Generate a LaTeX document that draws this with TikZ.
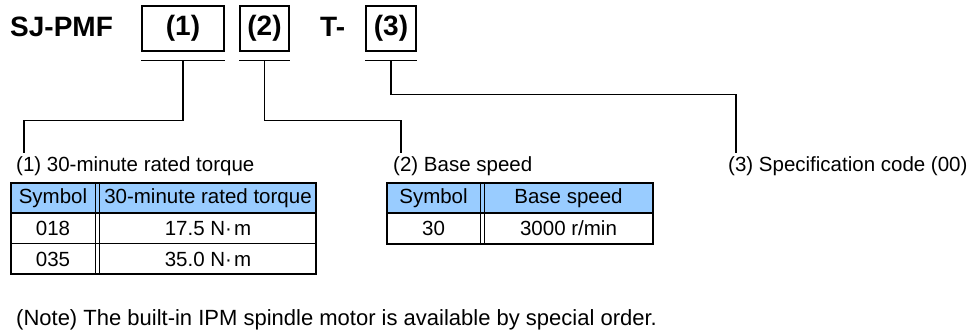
\documentclass[tikz,border=0pt]{standalone}
\usepackage{fontspec}
\setmainfont{Liberation Sans}
\usetikzlibrary{calc}
\definecolor{hdrblue}{HTML}{99CCFF}
\tikzset{
  codebox/.style={draw, line width=1.4pt, minimum height=45, inner sep=0pt, font=\fontsize{28}{30}\selectfont\bfseries},
  titletext/.style={anchor=base west, inner sep=0pt, font=\fontsize{28}{30}\selectfont\bfseries},
  lbl/.style={anchor=base west, inner sep=0pt, font=\fontsize{20.5}{24}\selectfont},
  cell/.style={inner sep=0pt, font=\fontsize{20.5}{24}\selectfont},
  lead/.style={line width=1.2pt},
}
\begin{document}
\begin{tikzpicture}[x=1pt,y=-1pt]
  \useasboundingbox (0,0) rectangle (977,331);
  \node[titletext] (model) at (10,37) {SJ-PMF};
  \node[codebox, minimum width=82] (c1) at (183,28.5) {(1)};
  \node[codebox, minimum width=49] (c2) at (264.5,28.5) {(2)};
  \node[titletext] (tdash) at (320,37) {T-};
  \node[codebox, minimum width=50] (c3) at (391,28.5) {(3)};
  \foreach \c in {c1,c2,c3}
    \draw[lead] ($(\c.south west)+(0,9)$) -- coordinate (u\c) ($(\c.south east)+(0,9)$); % underline

  \coordinate (e1) at (24,153);
  \coordinate (e2) at (401,153);
  \coordinate (e3) at (736,153);
  \draw[lead] (uc1) -- ++(0,60) -| (e1);
  \draw[lead] (uc2) -- ++(0,60) -| (e2);
  \draw[lead] (uc3) -- ++(0,34) -| (e3);

  \node[lbl] (l1) at (16,172) {(1) 30-minute rated torque};
  \node[lbl] (l2) at (393,172) {(2) Base speed};
  \node[lbl] (l3) at (728,172) {(3) Specification code (00)};

  % table (1)
  \fill[hdrblue] (11,183) rectangle (316,213);
  \draw[line width=1.2pt] (11,213) -- (316,213);
  \draw[line width=1pt] (11,243) -- (316,243);
  \draw[line width=0.9pt] (95.5,183) -- (95.5,274);
  \draw[line width=0.9pt] (99.5,183) -- (99.5,274);
  \draw[line width=1.8pt] (11,183) rectangle (316,274);
  \node[cell] (t1a) at (53,198.5) {Symbol};
  \node[cell] (t1b) at (208,198.5) {30-minute rated torque};
  \node[cell] (t1c) at (53,228.5) {018};
  \node[cell] (t1d) at (208,228.5) {17.5 N·\hspace{2pt}m};
  \node[cell] (t1e) at (53,259) {035};
  \node[cell] (t1f) at (208,259) {35.0 N·\hspace{2pt}m};

  % table (2)
  \fill[hdrblue] (387,183) rectangle (653,213);
  \draw[line width=1.2pt] (387,213) -- (653,213);
  \draw[line width=0.9pt] (480,183) -- (480,244);
  \draw[line width=0.9pt] (484,183) -- (484,244);
  \draw[line width=1.8pt] (387,183) rectangle (653,244);
  \node[cell] (t2a) at (433.5,198.5) {Symbol};
  \node[cell] (t2b) at (568.5,198.5) {Base speed};
  \node[cell] (t2c) at (433.5,228.5) {30};
  \node[cell] (t2d) at (568.5,228.5) {3000 r/min};

  \node[lbl, font=\fontsize{22}{26}\selectfont] (note) at (16,325) {(Note) The built-in IPM spindle motor is available by special order.};
\end{tikzpicture}
\end{document}
